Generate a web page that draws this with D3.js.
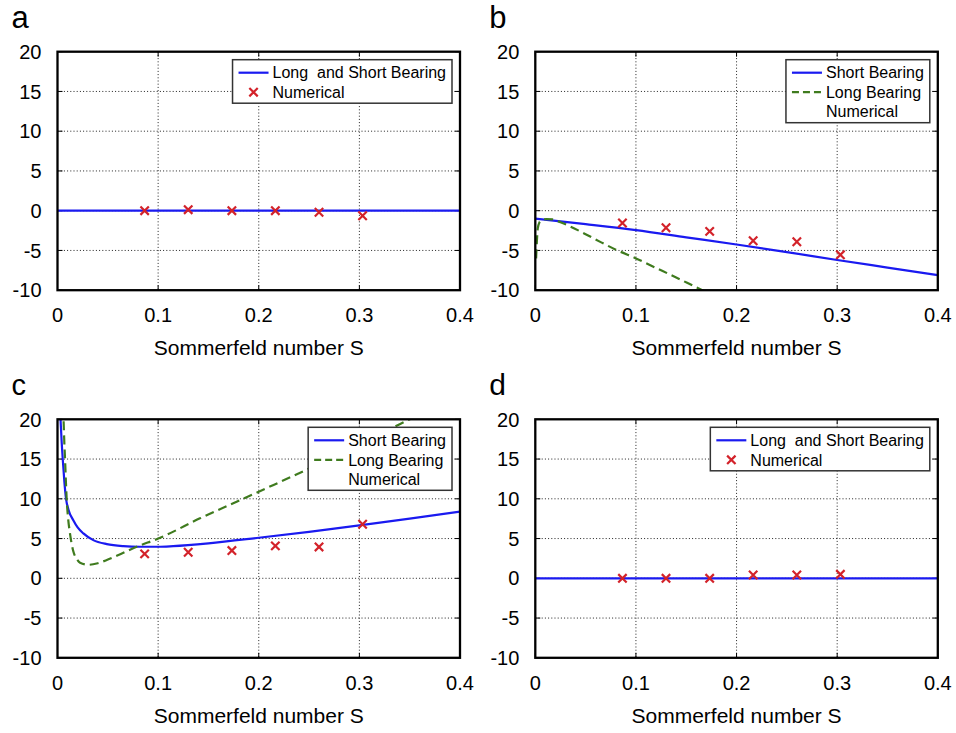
<!DOCTYPE html>
<html>
<head>
<meta charset="utf-8">
<script src="https://cdn.jsdelivr.net/npm/d3@7"></script>
<style>
  html, body { margin: 0; padding: 0; background: #fff; }
  svg { display: block; font-family: "Liberation Sans", Arial, Helvetica, sans-serif; }
</style>
</head>
<body>
<svg id="chart" width="956" height="733"></svg>
<script>
// Axis ticks shared by all four panels
const xTicks = [0, 0.1, 0.2, 0.3, 0.4];
const yTicks = [-10, -5, 0, 5, 10, 15, 20];

// Sommerfeld numbers of the numerical (CFD) runs
const numericalS = [0.0866, 0.1299, 0.1733, 0.2165, 0.2599, 0.3032];

// Panel a
const numericalA = [0, 0.13, 0, 0, -0.2, -0.63];
const bothA_S = [0, 0.4];
const bothA = [0, 0];

// Panel b
const numericalB = [-1.55, -2.14, -2.6, -3.78, -3.9, -5.55];
const shortB_S = [0, 0.05, 0.1, 0.15, 0.2, 0.25, 0.3, 0.35, 0.4];
const shortB = [-1.0, -1.7, -2.45, -3.35, -4.25, -5.2, -6.2, -7.15, -8.1];
const longB_S = [0.0008, 0.0015, 0.0025, 0.004, 0.0065, 0.011, 0.017, 0.025, 0.035, 0.05, 0.065, 0.08, 0.1, 0.12, 0.14, 0.166, 0.172];
const longB = [-6.0, -4.0, -2.2, -1.5, -1.2, -1.05, -1.1, -1.45, -2.0, -2.95, -3.95, -4.9, -6.0, -7.2, -8.4, -10, -10.35];

// Panel c
const numericalC = [3.07, 3.28, 3.49, 4.08, 3.95, 6.8];
const shortC_S = [0.0025, 0.0032, 0.0042, 0.0052, 0.0068, 0.0085, 0.011, 0.0157, 0.02, 0.0257, 0.0356, 0.049, 0.0654, 0.082, 0.1, 0.115, 0.15, 0.2, 0.25, 0.3, 0.35, 0.4];
const shortC = [21.5, 19.5, 17, 15, 12.2, 10, 8.6, 7.3, 6.4, 5.65, 4.8, 4.3, 4.05, 3.97, 3.97, 4.05, 4.4, 5.1, 5.85, 6.65, 7.5, 8.4];
const longC_S = [0.0055, 0.006, 0.0068, 0.0075, 0.0083, 0.0091, 0.0105, 0.0124, 0.0157, 0.019, 0.0224, 0.0306, 0.04, 0.049, 0.06, 0.0787, 0.1002, 0.1416, 0.2, 0.25, 0.3, 0.334, 0.35, 0.36];
const longC = [21.5, 20, 17, 15, 12.3, 10, 7.6, 5.65, 3.4, 2.45, 1.96, 1.7, 1.9, 2.3, 2.9, 3.97, 5.0, 7.54, 10.9, 13.8, 16.9, 19.0, 20.0, 20.6];

// Panel d
const numericalD = [0, 0, 0, 0.42, 0.42, 0.5];
const bothD_S = [0, 0.4];
const bothD = [0, 0];

const BLUE = "#1a1af0";
const GREEN = "#3f7b1e";
const RED = "#d3222a";

const zip = (xs, ys) => xs.map((x, i) => [x, ys[i]]);

const panels = [
  { label: "a", left: 57.5, top: 51.7, labelSize: 31,
    curves: [{ pts: zip(bothA_S, bothA), color: BLUE, dash: null }],
    points: zip(numericalS, numericalA),
    legend: [{ text: "Long  and Short Bearing", kind: "line", color: BLUE },
             { text: "Numerical", kind: "mark" }] },
  { label: "b", left: 535.3, top: 51.7, labelSize: 31,
    curves: [{ pts: zip(shortB_S, shortB), color: BLUE, dash: null },
             { pts: zip(longB_S, longB), color: GREEN, dash: "9,5" }],
    points: zip(numericalS, numericalB),
    legend: [{ text: "Short Bearing", kind: "line", color: BLUE },
             { text: "Long Bearing", kind: "dash", color: GREEN },
             { text: "Numerical", kind: "none" }] },
  { label: "c", left: 57.5, top: 419.3, labelSize: 29,
    curves: [{ pts: zip(shortC_S, shortC), color: BLUE, dash: null },
             { pts: zip(longC_S, longC), color: GREEN, dash: "9,5" }],
    points: zip(numericalS, numericalC),
    legend: [{ text: "Short Bearing", kind: "line", color: BLUE },
             { text: "Long Bearing", kind: "dash", color: GREEN },
             { text: "Numerical", kind: "none" }] },
  { label: "d", left: 535.3, top: 419.3, labelSize: 30,
    curves: [{ pts: zip(bothD_S, bothD), color: BLUE, dash: null }],
    points: zip(numericalS, numericalD),
    legend: [{ text: "Long  and Short Bearing", kind: "line", color: BLUE },
             { text: "Numerical", kind: "mark" }] }
];

const W = 402.5, H = 238.5;
const svg = d3.select("#chart");

panels.forEach((p, idx) => {
  const g = svg.append("g").attr("transform", `translate(${p.left},${p.top})`);
  const x = d3.scaleLinear().domain([0, 0.4]).range([0, W]);
  const y = d3.scaleLinear().domain([-10, 20]).range([H, 0]);

  const clipId = "clip" + idx;
  g.append("clipPath").attr("id", clipId)
    .append("rect").attr("x", 0).attr("y", 0).attr("width", W).attr("height", H);

  // dotted grid
  const grid = g.append("g").attr("class", "grid");
  grid.selectAll("line.gx").data(xTicks.filter(t => t > 0 && t < 0.4)).join("line")
    .attr("x1", d => x(d)).attr("x2", d => x(d)).attr("y1", 0).attr("y2", H)
    .attr("stroke", "#222").attr("stroke-width", 1).attr("stroke-dasharray", "1,2.2");
  grid.selectAll("line.gy").data(yTicks.filter(t => t > -10 && t < 20)).join("line")
    .attr("x1", 0).attr("x2", W).attr("y1", d => y(d)).attr("y2", d => y(d))
    .attr("stroke", "#222").attr("stroke-width", 1).attr("stroke-dasharray", "1,2.2");

  // inward ticks on all four sides
  const ticks = g.append("g");
  const tl = 5;
  xTicks.forEach(t => {
    ticks.append("line").attr("x1", x(t)).attr("x2", x(t)).attr("y1", H).attr("y2", H - tl);
    ticks.append("line").attr("x1", x(t)).attr("x2", x(t)).attr("y1", 0).attr("y2", tl);
  });
  yTicks.forEach(t => {
    ticks.append("line").attr("x1", 0).attr("x2", tl).attr("y1", y(t)).attr("y2", y(t));
    ticks.append("line").attr("x1", W).attr("x2", W - tl).attr("y1", y(t)).attr("y2", y(t));
  });
  ticks.selectAll("line").attr("stroke", "#000").attr("stroke-width", 1);

  // curves
  const line = d3.line().x(d => x(d[0])).y(d => y(d[1])).curve(d3.curveMonotoneX);
  const curveG = g.append("g").attr("clip-path", `url(#${clipId})`);
  p.curves.forEach(c => {
    curveG.append("path").datum(c.pts)
      .attr("d", line).attr("fill", "none")
      .attr("stroke", c.color).attr("stroke-width", 2.2)
      .attr("stroke-dasharray", c.dash);
  });

  // numerical markers
  const ms = 4.2;
  const marks = g.append("g");
  p.points.forEach(d => {
    const cx = x(d[0]), cy = y(d[1]);
    marks.append("path")
      .attr("d", `M${cx - ms},${cy - ms}L${cx + ms},${cy + ms}M${cx - ms},${cy + ms}L${cx + ms},${cy - ms}`)
      .attr("stroke", RED).attr("stroke-width", 2.2).attr("fill", "none");
  });

  // frame
  g.append("rect").attr("x", 0).attr("y", 0).attr("width", W).attr("height", H)
    .attr("fill", "none").attr("stroke", "#000").attr("stroke-width", 2.3);

  // tick labels
  g.append("g").selectAll("text").data(xTicks).join("text")
    .attr("x", d => x(d)).attr("y", H + 32)
    .attr("text-anchor", "middle").attr("font-size", 20)
    .text(d => d3.format("")(d));
  g.append("g").selectAll("text").data(yTicks).join("text")
    .attr("x", -16).attr("y", d => y(d)).attr("dy", "0.36em")
    .attr("text-anchor", "end").attr("font-size", 20)
    .text(d => d);

  // axis title
  g.append("text").attr("x", W / 2).attr("y", H + 65)
    .attr("text-anchor", "middle").attr("font-size", 21)
    .text("Sommerfeld number S");

  // panel letter
  svg.append("text").attr("x", p.left - 46).attr("y", p.top - 24)
    .attr("font-size", p.labelSize).text(p.label);

  // legend
  const lg = g.append("g");
  const box = lg.append("rect").attr("fill", "#fff").attr("stroke", "#333").attr("stroke-width", 1.5);
  const rowH = 19.5, textX = 40, firstRow = 13;
  let maxW = 0;
  p.legend.forEach((e, i) => {
    const cy = firstRow + i * rowH;
    const t = lg.append("text").attr("x", textX).attr("y", cy).attr("dy", "0.36em")
      .attr("font-size", 16).style("white-space", "pre").text(e.text);
    maxW = Math.max(maxW, t.node().getComputedTextLength());
    if (e.kind === "line" || e.kind === "dash") {
      lg.append("line").attr("x1", 6).attr("x2", 36).attr("y1", cy).attr("y2", cy)
        .attr("stroke", e.color).attr("stroke-width", 2.2)
        .attr("stroke-dasharray", e.kind === "dash" ? "7,4" : null);
    } else if (e.kind === "mark") {
      const mx = 21;
      lg.append("path")
        .attr("d", `M${mx - ms},${cy - ms}L${mx + ms},${cy + ms}M${mx - ms},${cy + ms}L${mx + ms},${cy - ms}`)
        .attr("stroke", RED).attr("stroke-width", 2.2);
    }
  });
  const bw = textX + maxW + 6;
  const bh = firstRow * 2 + (p.legend.length - 1) * rowH - 2;
  box.attr("x", 0).attr("y", 0).attr("width", bw).attr("height", bh);
  lg.attr("transform", `translate(${W - 8 - bw},8)`);
});
</script>
</body>
</html>
